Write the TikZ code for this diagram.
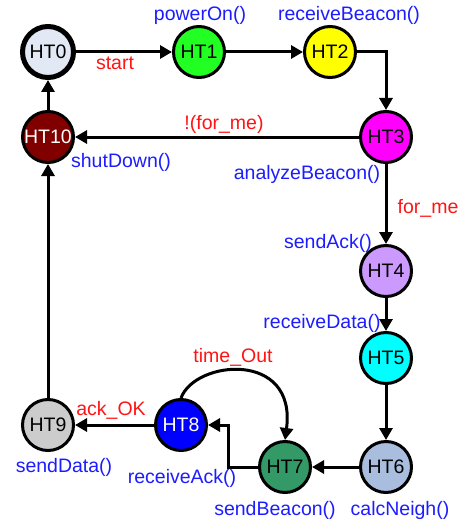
\documentclass[tikz,border=0pt]{standalone}
\usepackage{fontspec}
\setmainfont{Liberation Sans}
\usetikzlibrary{arrows.meta}

\definecolor{fnblue}{RGB}{28,28,255}
\definecolor{condred}{RGB}{255,20,20}
\definecolor{cHTzero}{RGB}{226,233,244}
\definecolor{cHTone}{RGB}{34,255,34}
\definecolor{cHTtwo}{RGB}{255,255,0}
\definecolor{cHTthree}{RGB}{255,0,255}
\definecolor{cHTfour}{RGB}{204,153,255}
\definecolor{cHTfive}{RGB}{0,255,255}
\definecolor{cHTsix}{RGB}{169,190,222}
\definecolor{cHTseven}{RGB}{51,153,102}
\definecolor{cHTeight}{RGB}{0,0,255}
\definecolor{cHTnine}{RGB}{204,204,204}
\definecolor{cHTten}{RGB}{128,0,0}

\begin{document}
\begin{tikzpicture}[x=1pt,y=-1pt,
  state/.style={circle, draw=black, line width=3pt, minimum size=51pt,
    inner sep=0pt, font=\fontsize{19.5}{19.5}\selectfont},
  fn/.style={text=fnblue, inner sep=0pt, font=\fontsize{19.5}{19.5}\selectfont},
  cond/.style={text=condred, inner sep=0pt, font=\fontsize{19.5}{19.5}\selectfont},
  flow/.style={line width=3pt, -{Triangle[length=12pt,width=13pt]}}
]
\useasboundingbox (0,0) rectangle (466,524);

% states
\node[state, line width=5pt, fill=cHTzero] (HT0) at (48,52) {HT0};
\node[state, fill=cHTone]   (HT1)  at (199,52)  {HT1};
\node[state, fill=cHTtwo]   (HT2)  at (330,52)  {HT2};
\node[state, fill=cHTthree] (HT3)  at (386,137) {HT3};
\node[state, fill=cHTten, text=white] (HT10) at (48,137) {HT10};
\node[state, fill=cHTfour]  (HT4)  at (386,271) {HT4};
\node[state, fill=cHTfive]  (HT5)  at (386,358) {HT5};
\node[state, fill=cHTsix]   (HT6)  at (386,467) {HT6};
\node[state, fill=cHTseven] (HT7)  at (285,467) {HT7};
\node[state, fill=cHTeight, text=white] (HT8) at (181,425) {HT8};
\node[state, fill=cHTnine]  (HT9)  at (48,425)  {HT9};

\coordinate (bend78) at (228,467);

% transitions
\draw[flow] (HT0) -- (HT1);
\draw[flow] (HT1) -- (HT2);
\draw[flow] (HT2.east) -| (HT3.north);
\draw[flow] (HT3) -- (HT10);
\draw[flow] (HT10) -- (HT0);
\draw[flow] (HT3) -- (HT4);
\draw[flow] (HT4) -- (HT5);
\draw[flow] (HT5) -- (HT6);
\draw[flow] (HT6) -- (HT7);
\draw[flow] (HT7.west) -- (bend78) |- (HT8.east);
\draw[flow] (HT8) -- (HT9);
\draw[flow] (HT9) -- (HT10);
\draw[flow] (HT8.north) .. controls (195,360) and (297,350) .. (HT7.north);

% actions
\node[fn] (lpower)   at (200,15)  {powerOn()};
\node[fn] (lrecvb)   at (349,15)  {receiveBeacon()};
\node[fn] (lshut)    at (121,162) {shutDown()};
\node[fn] (lanalyze) at (307,174) {analyzeBeacon()};
\node[fn] (lsendack) at (328,243) {sendAck()};
\node[fn] (lrecvd)   at (322,323) {receiveData()};
\node[fn] (lsendd)   at (64,467)  {sendData()};
\node[fn] (lrecva)   at (182,478) {receiveAck()};
\node[fn] (lsendb)   at (275,510) {sendBeacon()};
\node[fn] (lcalc)    at (400,510) {calcNeigh()};

% guards
\node[cond] (lstart)  at (115,63)  {start};
\node[cond] (lnotme)  at (224,124) {!(for\_me)};
\node[cond] (lforme)  at (428,208) {for\_me};
\node[cond] (ltime)   at (233,357) {time\_Out};
\node[cond] (lackok)  at (111,410) {ack\_OK};
\end{tikzpicture}
\end{document}
